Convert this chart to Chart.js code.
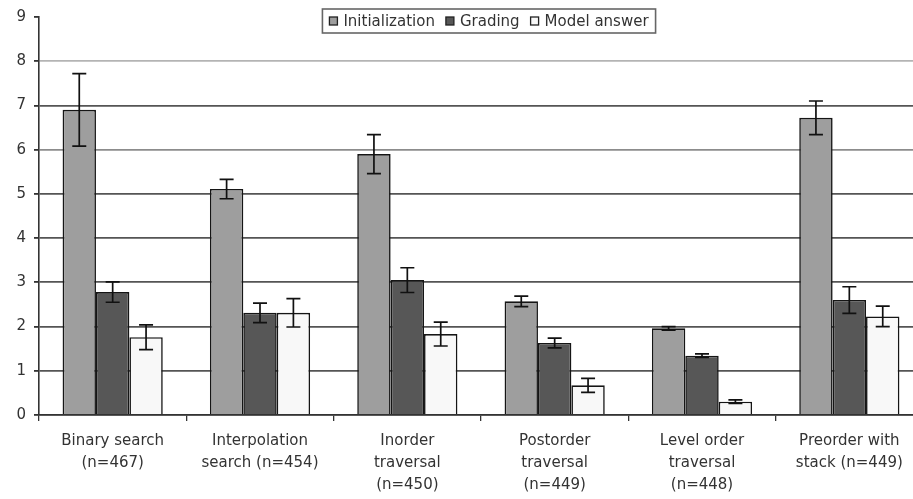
<!DOCTYPE html>
<html><head><meta charset="utf-8">
<style>html,body{margin:0;padding:0;background:#fff;overflow:hidden}#wrap{width:923px;height:499px;position:relative}</style>
<script src="https://cdn.jsdelivr.net/npm/chart.js@4.4.0/dist/chart.umd.min.js"></script>
</head><body><div id="wrap"><canvas id="c"></canvas></div>
<script>
const categories = [
  ["Binary search","(n=467)"],
  ["Interpolation","search (n=454)"],
  ["Inorder","traversal","(n=450)"],
  ["Postorder","traversal","(n=449)"],
  ["Level order","traversal","(n=448)"],
  ["Preorder with","stack (n=449)"]
];
const seriesNames = ["Initialization","Grading","Model answer"];
const initialization = [6.90, 5.11, 5.90, 2.57, 1.96, 6.72];
const initializationErr = [0.82, 0.22, 0.44, 0.12, 0.04, 0.38];
const grading = [2.78, 2.31, 3.05, 1.63, 1.34, 2.60];
const gradingErr = [0.23, 0.22, 0.28, 0.11, 0.04, 0.30];
const modelAnswer = [1.76, 2.31, 1.83, 0.67, 0.30, 2.23];
const modelAnswerErr = [0.28, 0.32, 0.27, 0.16, 0.04, 0.23];
const yTicks = [0,1,2,3,4,5,6,7,8,9];

const FONT = "'DejaVu Sans', 'Liberation Sans', sans-serif";

const errorBars = {
  id: 'errorBars',
  afterDatasetsDraw(chart) {
    const ctx = chart.ctx, y = chart.scales.y;
    chart.data.datasets.forEach((ds, di) => {
      const meta = chart.getDatasetMeta(di);
      meta.data.forEach((bar, i) => {
        const v = ds.data[i], e = ds.errors[i];
        const top = y.getPixelForValue(v + e), bot = y.getPixelForValue(v - e);
        ctx.save();
        ctx.strokeStyle = '#111'; ctx.lineWidth = 1.7;
        ctx.beginPath();
        ctx.moveTo(bar.x, top); ctx.lineTo(bar.x, bot);
        ctx.moveTo(bar.x - 7, top); ctx.lineTo(bar.x + 7, top);
        ctx.moveTo(bar.x - 7, bot); ctx.lineTo(bar.x + 7, bot);
        ctx.stroke();
        ctx.restore();
      });
    });
  }
};

const boxedLegend = {
  id: 'boxedLegend',
  afterDraw(chart) {
    const ctx = chart.ctx;
    ctx.save();
    ctx.font = "15px " + FONT;
    const items = chart.data.datasets.map(d => ({label: d.label, color: d.backgroundColor, w: ctx.measureText(d.label).width}));
    const sw = 8, gap = 6, itemGap = 11, padX = 7;
    const total = items.reduce((s, it) => s + sw + gap + it.w, 0) + itemGap * (items.length - 1) + padX * 2;
    const cx = 489, top = 9, h = 24;
    const left = cx - total / 2;
    ctx.fillStyle = '#fff'; ctx.fillRect(left, top, total, h);
    ctx.strokeStyle = '#666'; ctx.lineWidth = 1.6; ctx.strokeRect(left, top, total, h);
    let x = left + padX; const my = top + h / 2;
    items.forEach(it => {
      ctx.fillStyle = it.color; ctx.fillRect(x, my - 4, sw, sw);
      ctx.strokeStyle = '#222'; ctx.lineWidth = 1.3; ctx.strokeRect(x, my - 4, sw, sw);
      x += sw + gap;
      ctx.fillStyle = '#333'; ctx.textBaseline = 'middle'; ctx.textAlign = 'left';
      ctx.fillText(it.label, x, my + 1);
      x += it.w + itemGap;
    });
    ctx.restore();
  }
};

new Chart(document.getElementById('c'), {
  type: 'bar',
  data: {
    labels: categories,
    datasets: [
      {label: seriesNames[0], data: initialization, errors: initializationErr, backgroundColor: '#9e9e9e', borderColor: '#151515', borderWidth: 1.6},
      {label: seriesNames[1], data: grading, errors: gradingErr, backgroundColor: '#575757', borderColor: '#151515', borderWidth: 1.6},
      {label: seriesNames[2], data: modelAnswer, errors: modelAnswerErr, backgroundColor: '#f8f8f8', borderColor: '#151515', borderWidth: 1.6}
    ]
  },
  options: {
    responsive: true,
    maintainAspectRatio: false,
    animation: false,
    layout: {padding: {top: 17, right: 0, left: 0, bottom: 0}},
    datasets: {bar: {barPercentage: 1, categoryPercentage: 0.68}},
    plugins: {legend: {display: false}, tooltip: {enabled: false}},
    scales: {
      x: {
        grid: {display: true, offset: true, drawOnChartArea: false, drawTicks: true, tickLength: 6, tickColor: '#333', lineWidth: 1.3},
        border: {display: true, color: '#333', width: 1.6},
        ticks: {font: {family: FONT, size: 15, lineHeight: 1.47}, color: '#333', padding: 9, maxRotation: 0, autoSkip: false},
        afterFit(scale) { scale.height = 84; }
      },
      y: {
        min: 0, max: 9,
        afterBuildTicks(scale) { scale.ticks = yTicks.map(v => ({value: v})); },
        grid: {
          color: c => c.tick && c.tick.value === 9 ? 'rgba(0,0,0,0)' : (c.tick && c.tick.value === 8 ? '#b4b4b4' : (c.tick && c.tick.value === 6 ? '#8c8c8c' : '#555')),
          lineWidth: 1.8, tickLength: 5, tickColor: '#333'
        },
        border: {display: true, color: '#333', width: 1.6},
        ticks: {font: {family: FONT, size: 15}, color: '#333', padding: 8},
        afterFit(scale) { scale.width = 39; }
      }
    }
  },
  plugins: [errorBars, boxedLegend]
});
</script>
</body></html>
